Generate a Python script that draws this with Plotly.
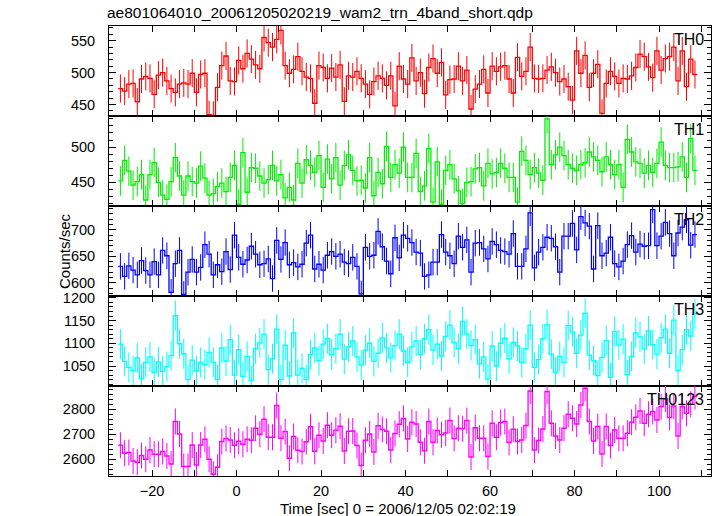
import plotly.graph_objects as go
from plotly.subplots import make_subplots

# ---------------- data (1-s bins starting at t = -28 s) ----------------
t_start = -28
bin_width = 1

th0 = [475, 471, 482, 483, 454, 490, 494, 491, 466, 496,
       500, 487, 475, 469, 482, 484, 482, 499, 469, 497,
       499, 434, 433, 477, 511, 526, 487, 486,
       519, 506, 530, 521, 512, 506, 555, 547, 540, 552,
       566, 511, 499, 505, 525, 502, 493, 491, 452, 511,
       508, 491, 507, 493, 512, 455, 495, 493, 502, 491,
       482, 466, 486, 495, 491, 480, 495, 448, 510, 490,
       482,
       523, 487, 500, 467, 508, 522, 499, 516, 465, 489,
       490, 510, 487, 504, 443, 474, 482, 505, 468, 510,
       502, 509, 511, 490, 468, 524, 494, 502, 540, 491,
       490, 491, 504, 509, 500, 486, 490, 478, 457, 534,
       499, 527, 477, 499, 513, 436, 483, 502, 494, 483,
       491, 490, 495, 508, 529, 525, 509, 492, 534, 504,
       522, 525, 540, 487, 534, 478, 521, 497]

th1 = [452, 481, 466, 446, 451, 461, 425, 461, 478, 450,
       432, 426, 451, 485, 459, 432, 459, 451, 449, 473,
       456, 432, 434, 444, 449, 437, 457, 474,
       419, 492, 436, 471, 470, 459, 449, 454, 474, 452,
       461, 428, 443, 425, 477, 449, 482, 474, 464, 488,
       443, 483, 455, 485, 446, 474, 489, 467, 452, 453,
       442, 485, 431, 464, 448, 501, 457, 475, 463, 500,
       457,
       457, 491, 437, 445, 498, 422, 479, 419, 467, 475,
       455, 438, 420, 450, 451, 469, 471, 445, 477, 462,
       464, 477, 470, 457, 457, 422, 494, 481, 461, 471,
       463, 453, 540, 475, 489, 500, 488, 475, 470, 467,
       475, 478, 493, 486, 481, 465, 486, 475, 461, 475,
       443, 511, 493, 479, 477, 463, 474, 464, 477, 507,
       474, 471, 471, 472, 486, 457, 512, 467]

th2 = [631, 612, 632, 624, 615, 642, 623, 615, 640, 615,
       661, 651, 582, 636, 661, 578, 620, 644, 620, 629,
       672, 654, 615, 634, 621, 659, 625, 690,
       648, 635, 643, 669, 654, 634, 636, 645, 608, 680,
       644, 676, 634, 638, 630, 635, 675, 690, 626, 635,
       624, 652, 659, 650, 654, 639, 636, 648, 631, 579,
       667, 650, 652, 697, 668, 641, 617, 685, 647, 690,
       684,
       676, 658, 656, 612, 615, 639, 639, 691, 658, 651,
       636, 688, 667, 681, 620, 675, 676, 664, 645, 678,
       672, 661, 659, 654, 693, 631, 631, 664, 732, 628,
       658, 667, 686, 684, 668, 620, 688, 688, 712, 662,
       725, 713, 707, 626, 708, 651, 656, 686, 636, 630,
       641, 672, 689, 658, 673, 669, 670, 738, 670, 688,
       714, 693, 651, 694, 705, 719, 671, 691]

th3 = [1098, 1060, 1047, 1040, 1068, 1022, 1058, 1070, 1036, 1059,
       1038, 1049, 1073, 1161, 1099, 1077, 1020, 1063, 1039, 1058,
       1053, 1080, 1058, 1020, 1090, 1061, 1108, 1030,
       1086, 1027, 1071, 1018, 1088, 1101, 1120, 1042, 1066, 1131,
       1020, 1096, 1028, 1123, 1030, 1045, 1020, 1075, 1090, 1062,
       1098, 1110, 1075, 1088, 1120, 1065, 1092, 1105, 1070, 1052,
       1085, 1100, 1060, 1078, 1112, 1090, 1068, 1095, 1120, 1083,
       1058,
       1092, 1105, 1075, 1110, 1130, 1085, 1098, 1072, 1115, 1140,
       1102, 1088, 1148, 1120, 1095, 1108, 1055, 1070, 1021, 1094,
       1050, 1100, 1111, 1066, 1102, 1094, 1058, 1088, 1140, 1047,
       1064, 1110, 1141, 1076, 1036, 1071, 1058, 1139, 1125, 1078,
       1118, 1166, 1074, 1062, 1029, 1069, 1106, 1025, 1126, 1096,
       1109, 1031, 1071, 1123, 1114, 1087, 1127, 1097, 1076, 1112,
       1131, 1078, 1151, 1040, 1086, 1130, 1116, 1165]

th0123 = [2656, 2624, 2627, 2593, 2588, 2615, 2600, 2637, 2620, 2620,
          2631, 2613, 2581, 2751, 2701, 2571, 2571, 2657, 2577, 2657,
          2680, 2600, 2540, 2568, 2671, 2683, 2677, 2656,
          2672, 2660, 2680, 2676, 2724, 2700, 2760, 2688, 2688, 2815,
          2684, 2711, 2604, 2691, 2636, 2631, 2670, 2730, 2632, 2696,
          2673, 2736, 2696, 2716, 2732, 2633, 2712, 2713, 2655, 2575,
          2676, 2701, 2629, 2734, 2719, 2712, 2637, 2703, 2740, 2763,
          2681,
          2748, 2741, 2668, 2634, 2751, 2668, 2715, 2698, 2705, 2755,
          2683, 2724, 2722, 2755, 2609, 2726, 2684, 2684, 2611, 2744,
          2688, 2747, 2751, 2667, 2720, 2671, 2677, 2735, 2873, 2637,
          2675, 2721, 2871, 2744, 2693, 2677, 2724, 2780, 2764, 2741,
          2817, 2884, 2751, 2673, 2731, 2621, 2731, 2655, 2717, 2684,
          2684, 2704, 2748, 2768, 2793, 2744, 2780, 2791, 2757, 2811,
          2841, 2767, 2813, 2693, 2811, 2784, 2820, 2851]

panel_names = ["TH0", "TH1", "TH2", "TH3", "TH0123"]
errors = [22, 21, 25, 33, 52]
colors = ["#ff0000", "#00ee00", "#0000ff", "#00ffff", "#ff00ff"]
y_ranges = [[432, 573], [416.5, 544], [575, 745], [1006, 1204], [2533, 2893]]
y_major = [50, 50, 50, 50, 100]
y_minor = [10, 10, 10, 10, 20]
x_range = [-30.2, 112.3]

title_text = "ae801064010_20061205020219_wam2_trn_4band_short.qdp"
xtitle_text = "Time [sec] 0 = 2006/12/05 02:02:19"
ytitle_text = "Counts/sec"

# ---------------- figure ----------------
W, H = 717, 516
ML, MR, MT, MB = 109, 6, 26, 40
plot_w = W - ML - MR
plot_h = H - MT - MB

fig = make_subplots(rows=5, cols=1, shared_xaxes=True, vertical_spacing=0)

series = [th0, th1, th2, th3, th0123]
for i, vals in enumerate(series):
    n = len(vals)
    edges = [t_start + k * bin_width for k in range(n + 1)]
    centers = [t_start + (k + 0.5) * bin_width for k in range(n)]
    fig.add_trace(go.Scatter(
        x=centers, y=vals, mode="markers",
        marker=dict(size=1, opacity=0, color=colors[i]),
        error_y=dict(type="constant", value=errors[i], color=colors[i],
                     thickness=1, width=0),
        hoverinfo="skip", showlegend=False), row=i + 1, col=1)
    fig.add_trace(go.Scatter(
        x=edges, y=vals + [vals[-1]], mode="lines", line_shape="hv",
        line=dict(color=colors[i], width=1.3),
        hoverinfo="skip", showlegend=False), row=i + 1, col=1)

font_family = "Liberation Sans, Arial, Helvetica, sans-serif"

for i in range(5):
    r = i + 1
    fig.update_xaxes(
        range=x_range, showline=True, linecolor="black", linewidth=1,
        mirror="ticks", ticks="inside", ticklen=6, tickcolor="black",
        tickwidth=1, dtick=20, tick0=0, showgrid=False, zeroline=False,
        minor=dict(ticks="inside", dtick=10, tick0=0, ticklen=6,
                   tickcolor="black", showgrid=False),
        showticklabels=(r == 5), ticklabelstandoff=2,
        tickfont=dict(size=14.5, color="black", family=font_family),
        row=r, col=1)
    fig.update_yaxes(
        range=y_ranges[i], showline=True, linecolor="black", linewidth=1,
        mirror="ticks", ticks="inside", ticklen=7, tickcolor="black",
        tickwidth=1, dtick=y_major[i], tick0=0, showgrid=False,
        zeroline=False,
        minor=dict(ticks="inside", dtick=y_minor[i], tick0=0, ticklen=4,
                   tickcolor="black", showgrid=False),
        ticklabelstandoff=10,
        tickfont=dict(size=14.5, color="black", family=font_family),
        row=r, col=1)

annotations = []
for i, name in enumerate(panel_names):
    top_px = MT + i * plot_h / 5 + 3
    annotations.append(dict(
        text=name, xref="paper", yref="paper",
        x=(W - MR - 5 - ML) / plot_w, y=(H - MB - top_px) / plot_h,
        xanchor="right", yanchor="top", showarrow=False,
        font=dict(size=16, color="black", family=font_family)))

annotations.append(dict(
    text=ytitle_text, xref="paper", yref="paper",
    x=(64 - ML) / plot_w, y=0.5, xanchor="center", yanchor="middle",
    textangle=-90, showarrow=False,
    font=dict(size=15, color="black", family=font_family)))
annotations.append(dict(
    text=xtitle_text, xref="paper", yref="paper",
    x=(398 - ML) / plot_w, y=-(508 - (H - MB)) / plot_h,
    xanchor="center", yanchor="middle", showarrow=False,
    font=dict(size=15, color="black", family=font_family)))

fig.update_layout(
    width=W, height=H,
    margin=dict(l=ML, r=MR, t=MT, b=MB),
    paper_bgcolor="white", plot_bgcolor="white",
    showlegend=False,
    font=dict(family=font_family, size=15, color="black"),
    title=dict(text=title_text, x=107 / W, xanchor="left",
               y=1 - 13 / H, yanchor="middle",
               font=dict(size=15.5, color="black", family=font_family)),
    annotations=annotations,
)

fig.write_html(
    "out.html",
    config={"displayModeBar": False, "staticPlot": True},
    post_script="document.body.style.margin='0px';"
                "document.body.style.overflow='hidden';",
)
